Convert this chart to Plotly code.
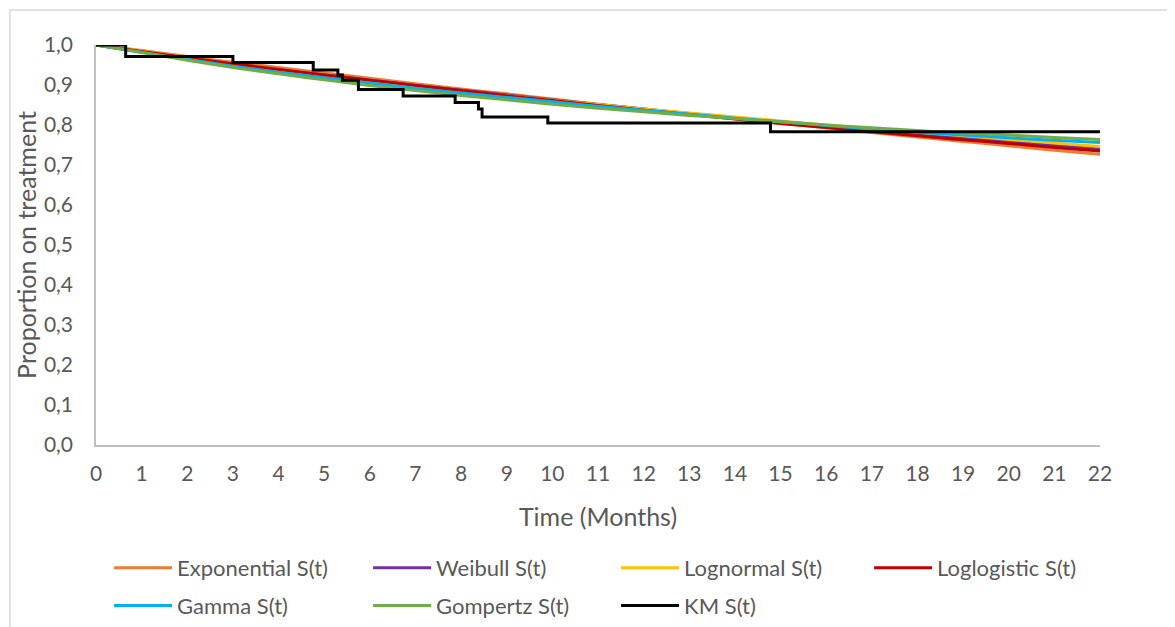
import plotly.graph_objects as go

months = list(range(0, 23))

exponential = [1.0, 0.986, 0.971, 0.957, 0.944, 0.930, 0.917, 0.903, 0.890, 0.878, 0.865, 0.852,
               0.840, 0.828, 0.816, 0.804, 0.793, 0.781, 0.770, 0.759, 0.748, 0.737, 0.727]
weibull = [1.0, 0.983, 0.967, 0.952, 0.938, 0.925, 0.912, 0.899, 0.887, 0.875, 0.863, 0.851,
           0.840, 0.829, 0.818, 0.807, 0.797, 0.787, 0.777, 0.767, 0.758, 0.749, 0.740]
lognormal = [1.0, 0.985, 0.968, 0.952, 0.937, 0.923, 0.910, 0.897, 0.885, 0.873, 0.862, 0.851,
             0.840, 0.830, 0.820, 0.810, 0.800, 0.791, 0.782, 0.773, 0.764, 0.755, 0.746]
loglogistic = [1.0, 0.984, 0.968, 0.953, 0.939, 0.925, 0.912, 0.899, 0.886, 0.873, 0.861, 0.849,
               0.837, 0.826, 0.815, 0.804, 0.794, 0.783, 0.773, 0.763, 0.754, 0.744, 0.735]
gamma = [1.0, 0.982, 0.964, 0.947, 0.932, 0.918, 0.905, 0.892, 0.880, 0.869, 0.858, 0.847,
         0.837, 0.827, 0.817, 0.808, 0.799, 0.790, 0.782, 0.775, 0.768, 0.762, 0.756]
gompertz = [1.0, 0.981, 0.962, 0.944, 0.928, 0.913, 0.899, 0.886, 0.874, 0.863, 0.852, 0.842,
            0.833, 0.824, 0.816, 0.808, 0.800, 0.793, 0.786, 0.780, 0.775, 0.769, 0.764]

km_t = [0, 0.65, 3.0, 4.76, 5.3, 5.4, 5.75, 6.73, 7.87, 8.38, 8.46, 9.9, 14.78, 22]
km_s = [1.0, 0.971, 0.956, 0.9375, 0.925, 0.912, 0.889, 0.8725, 0.856, 0.84, 0.82, 0.805, 0.783, 0.783]

# (name, values, colour, legend column)
series = [
    ("Exponential S(t)", exponential, "#ED7D31", "legend"),
    ("Weibull S(t)", weibull, "#7030A0", "legend2"),
    ("Lognormal S(t)", lognormal, "#FFC000", "legend3"),
    ("Loglogistic S(t)", loglogistic, "#C00000", "legend4"),
    ("Gamma S(t)", gamma, "#00B0F0", "legend"),
    ("Gompertz S(t)", gompertz, "#70AD47", "legend2"),
]

fig = go.Figure()
for i, (name, vals, col, lg) in enumerate(series):
    fig.add_trace(go.Scatter(x=months, y=vals, mode="lines", name=name, legend=lg,
                             legendgroup=f"g{i}",
                             line=dict(color=col, width=3, shape="spline")))
fig.add_trace(go.Scatter(x=km_t, y=km_s, mode="lines", name="KM S(t)", legend="legend3",
                         legendgroup="gkm",
                         line=dict(color="black", width=3, shape="hv")))

font = "Lato, 'Open Sans', sans-serif"
legend_y = -0.255
def mk_legend(xp):
    return dict(orientation="v", x=xp, y=legend_y, xanchor="left", yanchor="top",
                itemwidth=58, font=dict(size=22, color="#595959"), tracegroupgap=6,
                bgcolor="rgba(0,0,0,0)")

fig.update_layout(
    width=1167, height=619,
    margin=dict(l=88, r=75, t=37, b=182, autoexpand=False),
    paper_bgcolor="white", plot_bgcolor="white",
    separators=", ",
    font=dict(family=font, color="#595959", size=21),
    showlegend=True,
    legend=mk_legend(0.013),
    legend2=mk_legend(0.271),
    legend3=mk_legend(0.518),
    legend4=mk_legend(0.770),
    xaxis=dict(range=[0, 22], dtick=1, tick0=0, showgrid=False, zeroline=False,
               showline=True, linecolor="#BFBFBF", linewidth=1.5, ticks="",
               ticklabelstandoff=9, automargin=False,
               tickfont=dict(size=21), title=dict(text="Time (Months)", font=dict(size=25), standoff=25)),
    yaxis=dict(range=[0, 1.0], dtick=0.1, tick0=0, tickformat=".1f", showgrid=False, zeroline=False,
               showline=True, linecolor="#BFBFBF", linewidth=1.5, ticks="",
               ticklabelstandoff=17, automargin=False,
               tickfont=dict(size=21), title=dict(text="Proportion on treatment", font=dict(size=25), standoff=0)),
    shapes=[dict(type="rect", xref="paper", yref="paper", x0=-0.0857, x1=1.2, y0=-0.6, y1=1.0875,
                 line=dict(color="#D9D9D9", width=1.5), layer="below")],
)

fig.write_html("out.html")
